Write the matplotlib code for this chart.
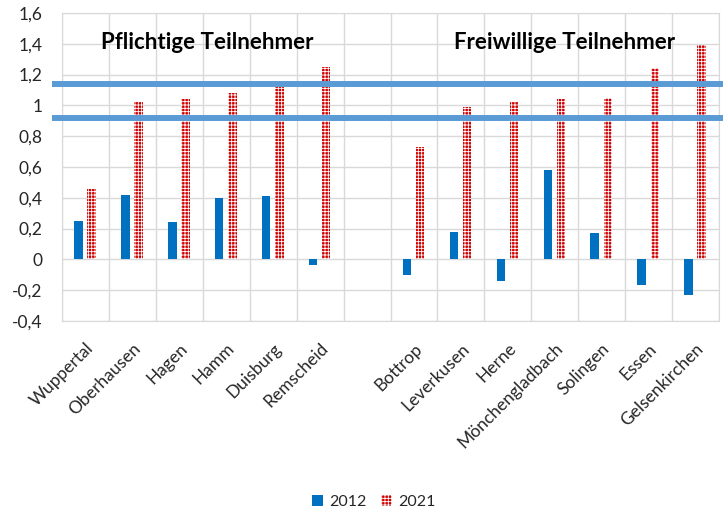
import numpy as np
import matplotlib
matplotlib.use('Agg')
import matplotlib.pyplot as plt
from matplotlib.patches import Patch

plt.rcParams['font.family'] = ['Lato', 'DejaVu Sans']
plt.rcParams['hatch.linewidth'] = 0.6

# categories (empty slot separates the two groups)
cities = ['Wuppertal', 'Oberhausen', 'Hagen', 'Hamm', 'Duisburg', 'Remscheid', '',
          'Bottrop', 'Leverkusen', 'Herne', 'Mönchengladbach', 'Solingen', 'Essen',
          'Gelsenkirchen']
vals_2012 = [0.25, 0.42, 0.24, 0.40, 0.41, -0.035, np.nan,
             -0.10, 0.18, -0.14, 0.58, 0.17, -0.165, -0.23]
vals_2021 = [0.46, 1.02, 1.04, 1.08, 1.12, 1.25, np.nan,
             0.73, 0.99, 1.02, 1.04, 1.05, 1.24, 1.39]
group_labels = ['Pflichtige Teilnehmer', 'Freiwillige Teilnehmer']
band = [0.92, 1.14]
yticks = [-0.4, -0.2, 0, 0.2, 0.4, 0.6, 0.8, 1, 1.2, 1.4, 1.6]

blue = '#0070c0'
red = '#d00000'
grid_c = '#d9d9d9'
txt_c = '#262626'

fig = plt.figure(figsize=(7.23, 5.11), dpi=100)
ax = fig.add_axes([0.0858, 0.372, 0.9087, 0.6025])

x = np.arange(len(cities))
w = 0.18
ax.bar(x - 0.15, vals_2012, w, color=blue, zorder=3)
# 2021: red bar with a white grid hatch on top
ax.bar(x + 0.13, vals_2021, w, color=red, linewidth=0, zorder=3)
ax.bar(x + 0.13, vals_2021, w, facecolor='none', edgecolor='white', hatch='+++++',
       linewidth=0, zorder=3)

ax.set_xlim(-0.5, len(cities) - 0.5)
ax.set_ylim(-0.4, 1.6)
ax.set_yticks(yticks)
ax.set_yticklabels([('%g' % v).replace('.', ',') for v in yticks])
ax.set_xticks(x)
ax.set_xticklabels(cities, rotation=45, ha='right', rotation_mode='anchor')
ax.set_xticks(np.arange(-0.5, len(cities)), minor=True)
ax.tick_params(axis='both', which='both', length=0, colors=txt_c)
ax.tick_params(axis='y', pad=14, labelsize=12.5)
ax.tick_params(axis='x', pad=14, labelsize=12.5)
ax.grid(axis='y', color=grid_c, lw=1, zorder=0)
ax.grid(axis='x', which='minor', color=grid_c, lw=1, zorder=0)
for s in ax.spines.values():
    s.set_color(grid_c)

for y in band:
    ax.axhline(y, xmin=-0.011, xmax=1.006, color='#5b9bd5', lw=4.3,
               clip_on=False, zorder=4)

ax.text(2.6, 1.41, group_labels[0], ha='center', va='center',
        fontsize=16, fontweight='bold', color='black')
ax.text(10.2, 1.41, group_labels[1], ha='center', va='center',
        fontsize=16, fontweight='bold', color='black')

h12 = Patch(facecolor=blue)
h21 = (Patch(facecolor=red, lw=0),
       Patch(facecolor='none', edgecolor='white', hatch='+++++', lw=0))
fig.legend([h12, h21], ['2012', '2021'], loc='center', bbox_to_anchor=(0.517, 0.018),
           ncol=2, frameon=False, fontsize=11.5, handlelength=0.7, handleheight=0.7,
           handletextpad=0.4, columnspacing=0.9, labelcolor=txt_c)

fig.savefig('out.png', dpi=100)
